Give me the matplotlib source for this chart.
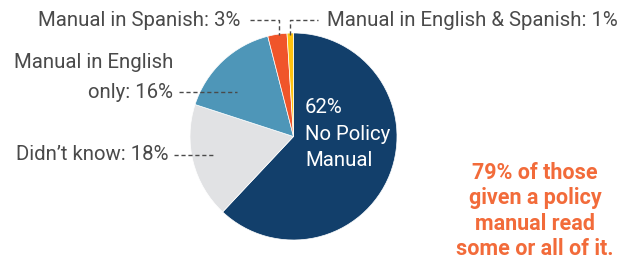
import matplotlib
matplotlib.use("Agg")
import matplotlib.pyplot as plt

labels = ["No Policy Manual", "Didn't know", "Manual in English only", "Manual in Spanish", "Manual in English & Spanish"]
values = [62, 18, 16, 3, 1]
colors = ["#123f6b", "#e1e2e4", "#4e96b8", "#f0552a", "#ffc20e"]

plt.rcParams['font.family'] = ['Roboto', 'DejaVu Sans']
W, H = 629, 259
fig = plt.figure(figsize=(W/100, H/100), dpi=100)
ax = fig.add_axes([0, 0, 1, 1])
cx, cy, r = 293.5, H - 136.5, 103.5
ax.pie(values, colors=colors, startangle=90, counterclock=False,
       center=(cx, cy), radius=r, wedgeprops=dict(linewidth=0.5, edgecolor="white"))
ax.set_xlim(0, W)
ax.set_ylim(0, H)
ax.set_aspect('equal')
ax.axis('off')

tc = "#4a4a4a"
fs = 14.7
def Y(y):
    return H - y

dash = (0, (3, 2))
ax.text(240, Y(20), "Manual in Spanish: 3%", ha="right", va="center", fontsize=fs, color=tc)
ax.plot([250, 279, 279], [Y(20), Y(20), Y(35)], ls=dash, color=tc, lw=1)
ax.text(327, Y(20), "Manual in English & Spanish: 1%", ha="left", va="center", fontsize=fs, color=tc)
ax.plot([290, 290, 318], [Y(35), Y(20), Y(20)], ls=dash, color=tc, lw=1)

ax.text(173, Y(63), "Manual in English", ha="right", va="center", fontsize=fs, color=tc)
ax.text(173, Y(92), "only: 16%", ha="right", va="center", fontsize=fs, color=tc)
ax.plot([179, 237], [Y(92), Y(92)], ls=dash, color=tc, lw=1)

ax.text(168, Y(155), "Didn\u2019t know: 18%", ha="right", va="center", fontsize=fs, color=tc)
ax.plot([174, 213], [Y(155), Y(155)], ls=dash, color=tc, lw=1)

ax.text(305, Y(134), "62%\nNo Policy\nManual", ha="left", va="center", fontsize=fs,
        color="white", linespacing=1.5)

ax.text(535, Y(211), "79% of those\ngiven a policy\nmanual read\nsome or all of it.",
        ha="center", va="center", fontsize=15.5, color="#f26b3a", fontweight="bold",
        linespacing=1.2)

fig.savefig("out.png", dpi=100)
